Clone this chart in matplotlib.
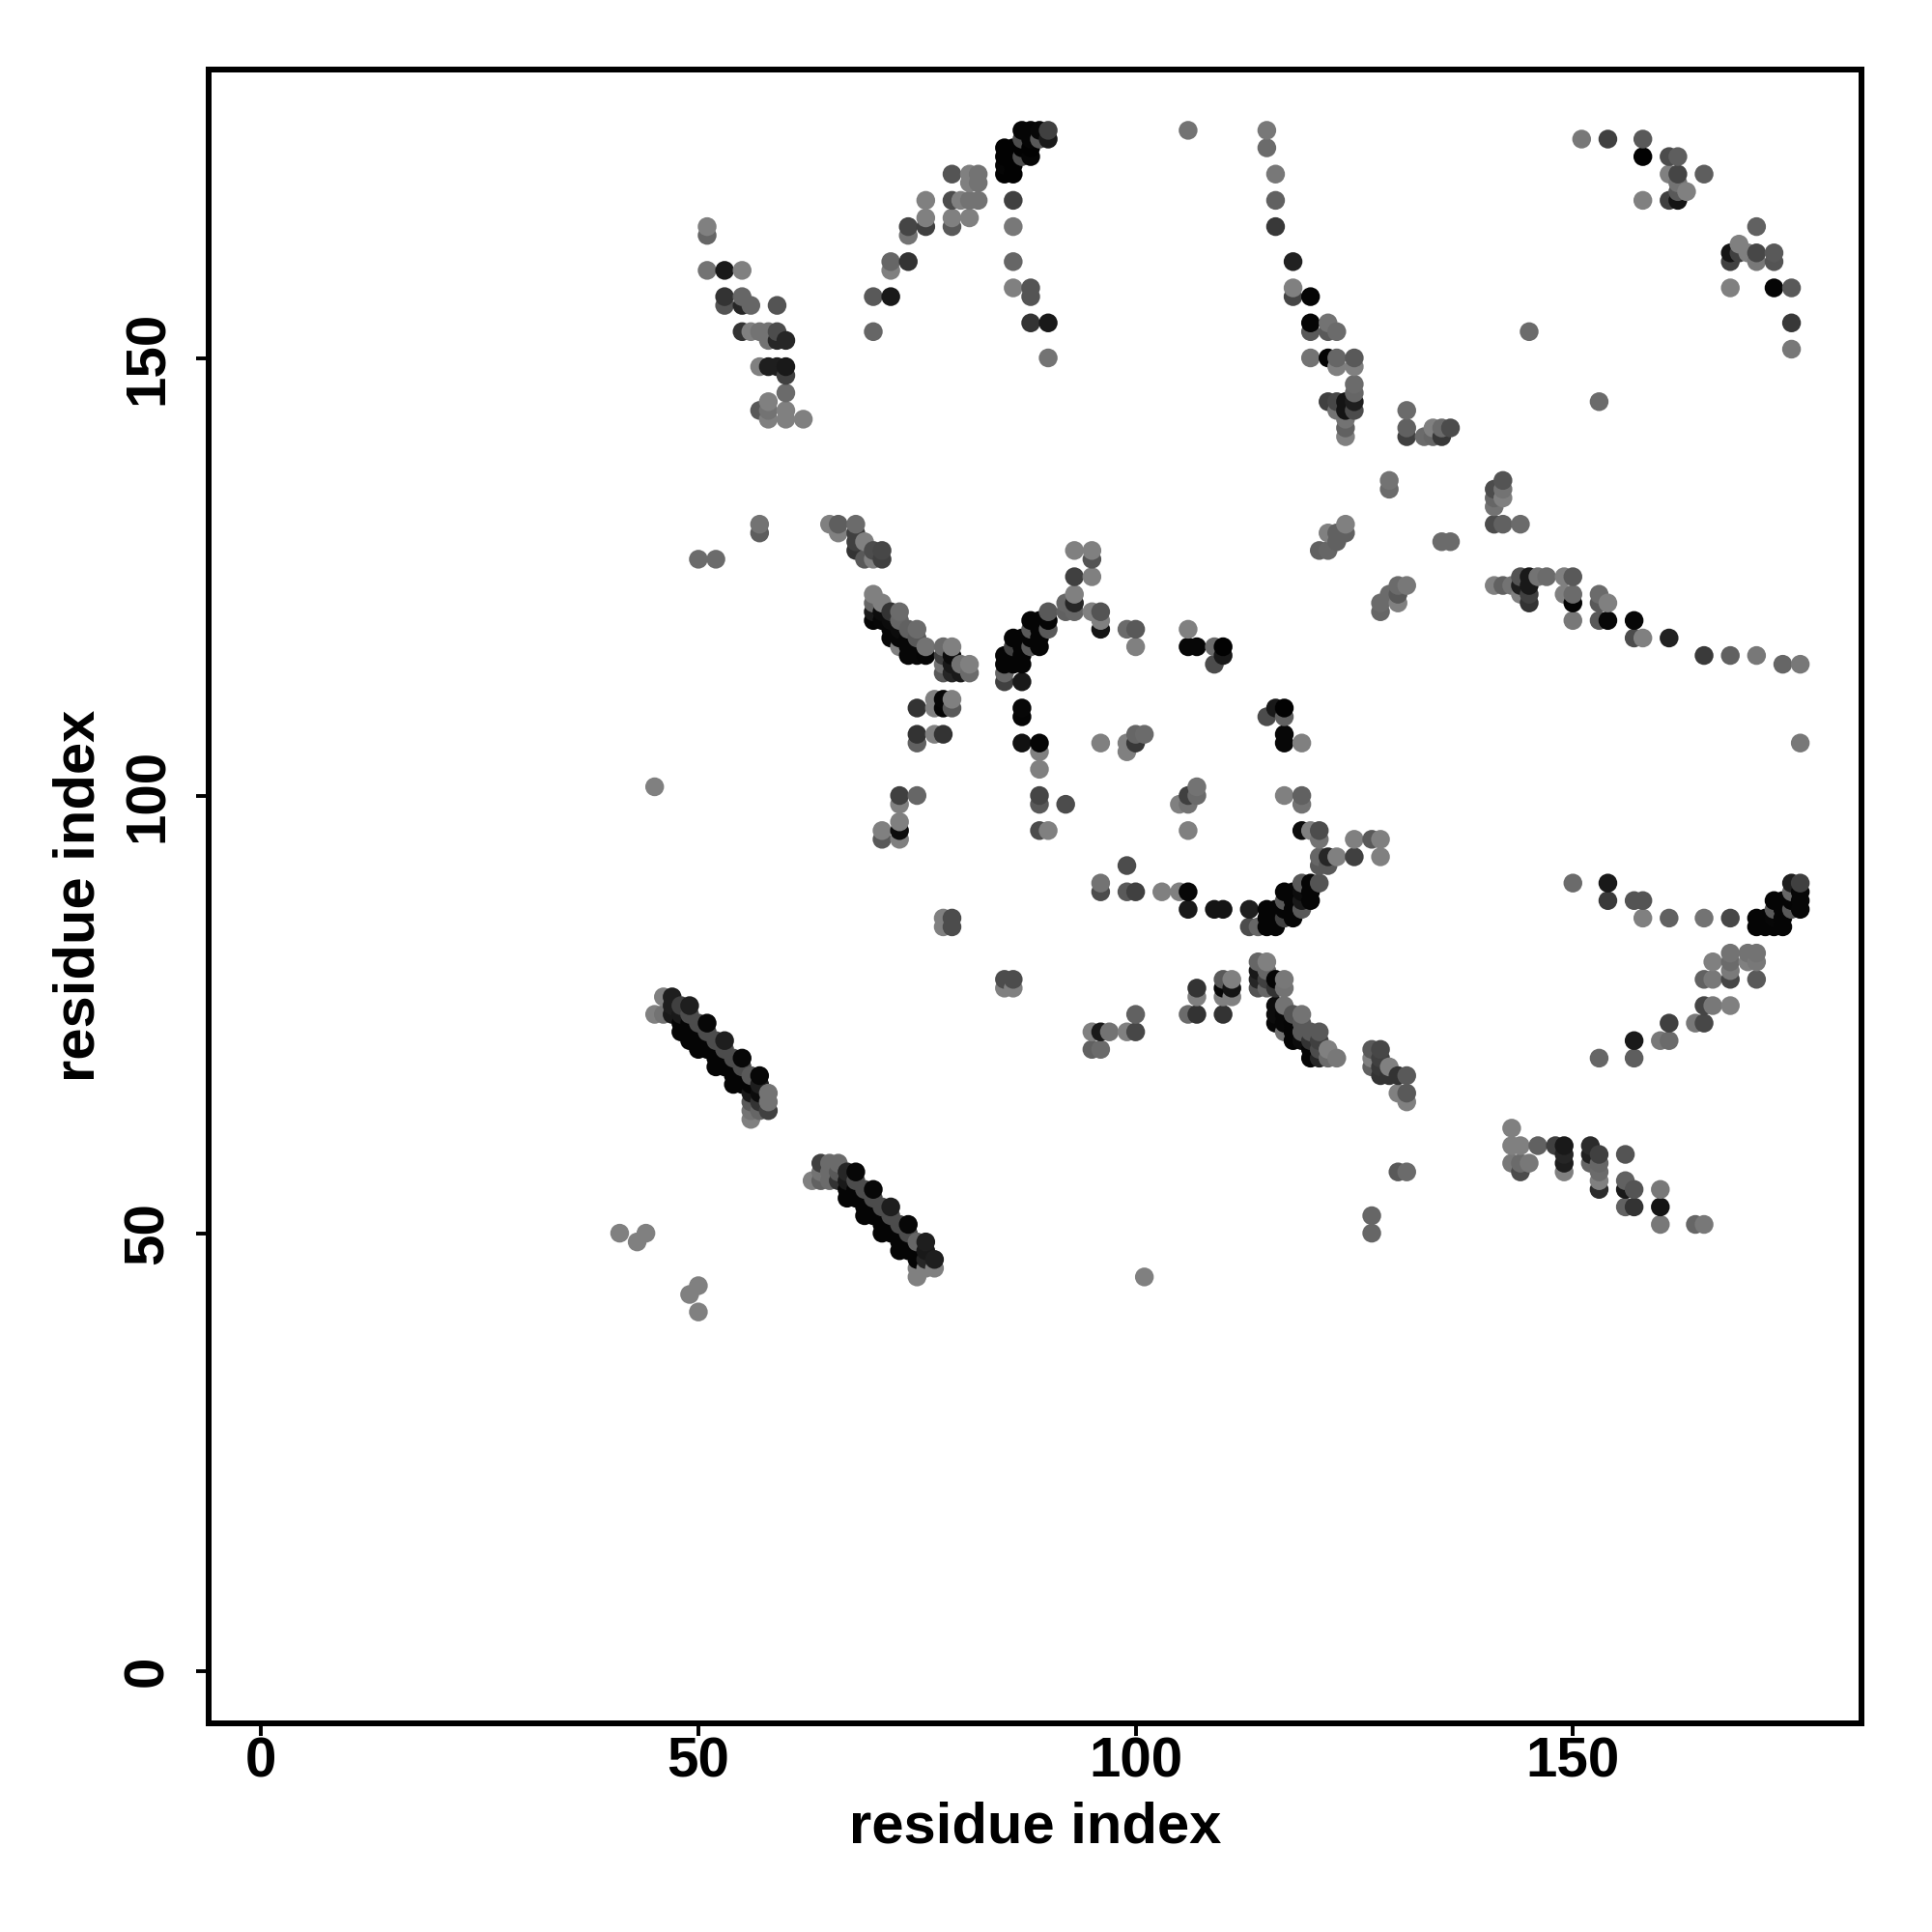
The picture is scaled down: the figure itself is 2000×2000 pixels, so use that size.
import numpy as np
import matplotlib
matplotlib.use('Agg')
import matplotlib.pyplot as plt

# contacts: (residue x, residue y, grey level)
top_left = [
    (51,165,.5),(51,164,.4),(51,160,.45),(53,160,.1),(55,160,.5),(53,157,.2),(53,156,.33),(55,157,.4),(55,156,.15),
    (56,156,.4),(59,156,.33),(55,153,.2),(56,153,.5),(57,153,.45),(58,153,.45),(59,153,.3),(58,152,.45),(59,152,.15),
    (60,152,.15),(57,149,.5),(58,149,.12),(59,149,.12),(60,149,.1),(60,148,.25),(60,146,.42),(57,144,.35),(58,145,.5),
    (58,144,.45),(58,143,.5),(60,144,.5),(60,143,.5),(62,143,.5),
]
upper_arc = [
    (70,153,.4),(70,157,.35),(72,157,.1),(72,161,.4),(72,160,.5),(74,161,.2),(74,165,.27),(74,164,.45),(76,165,.25),
    (76,166,.5),(76,168,.5),(79,171,.33),(79,168,.3),(79,166,.5),(79,165,.35),(80,168,.5),(81,168,.45),(81,166,.5),
    (81,171,.5),(81,170,.5),(82,171,.45),(82,170,.45),(82,168,.45),
    (85,174,.01),(85,173,.01),(85,172,.02),(85,171,.01),(86,174,.01),(86,173,.01),(86,172,.01),(86,171,.01),
    (87,176,.02),(87,175,.3),(87,174,.01),(87,173,.3),(88,176,.02),(88,175,.02),(88,174,.01),(88,173,.02),
    (89,176,.03),(89,175,.35),(90,175,.1),(90,176,.25),
    (86,168,.25),(86,165,.47),(86,161,.4),(86,158,.5),(88,158,.33),(88,157,.33),(88,154,.2),(90,154,.1),(90,150,.45),
]
mid_left = [
    (57,131,.45),(57,130,.37),(50,127,.42),(52,127,.42),(45,101,.5),
    (65,131,.5),(66,131,.37),(66,130,.5),(68,131,.42),(68,130,.25),(68,129,.25),(68,128,.2),(69,129,.5),(69,127,.35),
    (70,128,.3),(70,127,.5),(71,128,.28),(71,127,.25),
    (70,123,.5),(70,122,.4),(70,121,.1),(70,120,.02),(71,122,.5),(71,121,.05),(71,120,.03),(72,121,.2),(72,120,.05),
    (72,119,.03),(72,118,.03),(73,121,.42),(73,120,.4),(73,119,.05),(73,118,.03),(73,117,.5),(74,119,.38),(74,118,.03),
    (74,117,.03),(74,116,.03),(75,119,.42),(75,118,.35),(75,117,.03),(75,116,.03),(76,117,.45),(76,116,.02),
    (78,117,.42),(79,117,.5),(78,116,.25),(79,116,.05),(78,115,.45),(79,115,.1),(78,114,.35),(79,114,.15),(80,115,.45),
    (80,114,.1),(81,115,.5),(81,114,.42),
    (75,110,.2),(77,111,.5),(77,110,.5),(78,111,.03),(78,110,.02),(79,111,.5),(79,110,.35),(75,107,.2),(75,106,.38),
    (77,107,.5),(78,107,.2),(85,114,.4),(85,113,.25),(87,113,.1),(87,110,.03),(87,109,.02),(87,106,.07),(89,106,.02),
    (89,105,.5),(89,103,.5),(89,100,.27),(89,99,.35),(92,99,.3),(89,96,.3),(90,96,.5),
    (73,100,.25),(75,100,.4),(73,99,.5),(73,97,.5),(73,96,.05),(73,95,.5),(71,96,.5),(71,95,.35),
    (78,86,.5),(78,85,.5),(79,86,.3),(79,85,.3),(85,79,.3),(86,79,.3),(85,78,.5),(86,78,.5),
]
mid_cluster = [
    (85,116,.02),(85,115,.02),(86,118,.02),(86,117,.25),(86,116,.02),(86,115,.02),(87,118,.02),(87,117,.02),(87,116,.02),
    (87,115,.02),(88,120,.02),(88,119,.35),(88,118,.02),(88,117,.35),(89,120,.02),(89,119,.02),(89,118,.02),(89,117,.02),
    (90,121,.35),(90,120,.02),(90,119,.35),(92,122,.4),(92,121,.38),(93,122,.15),(93,121,.4),(93,123,.5),(93,125,.25),
    (93,128,.5),(95,128,.5),(95,127,.33),(95,125,.5),(95,121,.5),(96,121,.33),(96,120,.5),(96,119,.08),
    (99,119,.42),(100,119,.35),(100,117,.5),(106,119,.5),(106,117,.03),(107,117,.03),(109,117,.42),(110,117,.01),
    (110,116,.1),(109,115,.3),(115,109,.3),(116,110,.1),(117,110,.01),(117,109,.38),(117,107,.03),(117,106,.03),
    (119,106,.5),(96,106,.5),(99,106,.5),(99,105,.5),(100,107,.4),(100,106,.22),(101,107,.42),
    (106,96,.5),(105,99,.5),(106,99,.45),(106,100,.25),(107,100,.42),(107,101,.45),(117,100,.5),(119,100,.38),(119,99,.45),
]
upper_mid = [
    (106,176,.45),(115,176,.47),(115,174,.42),(116,171,.47),(116,168,.38),(116,165,.22),(118,161,.13),(118,158,.5),
    (118,157,.27),(120,157,.02),(120,154,.02),(120,153,.35),(122,154,.45),(122,153,.35),(123,153,.42),(120,150,.45),
    (122,150,.02),(123,150,.4),(123,149,.5),(125,150,.35),(125,149,.5),(125,147,.42),(125,146,.4),(125,145,.12),
    (125,144,.3),(122,145,.25),(123,145,.28),(123,144,.45),(124,145,.08),(124,144,.08),(124,143,.45),(124,142,.38),
    (124,141,.5),(145,153,.42),(153,145,.42),
    (131,144,.42),(131,142,.38),(131,141,.25),(133,141,.42),(134,142,.5),(134,141,.4),(135,142,.42),(135,141,.22),
    (136,142,.3),(129,136,.45),(129,135,.42),(141,135,.3),(141,134,.4),(141,133,.45),(142,136,.33),(142,135,.45),
    (142,134,.5),(141,131,.3),(142,131,.38),(144,131,.42),(135,129,.42),(136,129,.42),
    (122,130,.5),(123,130,.38),(124,130,.38),(124,131,.5),(123,129,.38),(121,128,.38),(122,128,.4),
    (128,121,.4),(128,122,.42),(129,123,.42),(130,124,.42),(131,124,.47),(130,123,.35),(130,122,.5),
]
right_band = [
    (141,124,.5),(142,124,.38),(143,124,.45),(144,125,.33),(144,124,.12),(144,123,.5),(145,125,.1),(145,124,.1),
    (145,123,.25),(145,122,.2),(146,125,.45),(147,125,.42),(149,125,.5),(150,125,.35),(149,123,.5),(150,123,.42),
    (150,122,.02),(150,120,.47),(153,123,.42),(153,122,.35),(154,122,.5),(153,120,.35),(154,120,.03),(157,120,.03),
    (157,118,.3),(158,118,.5),(161,118,.13),(165,116,.23),(168,116,.38),(171,116,.47),(174,115,.4),(176,115,.47),
    (176,106,.47),
]
top_right = [
    (151,175,.47),(154,175,.25),(158,175,.35),(158,173,.01),(161,173,.3),(162,173,.37),(161,171,.5),(162,171,.27),
    (162,170,.45),(163,169,.5),(162,169,.35),(165,171,.37),(158,168,.5),(161,168,.25),(162,168,.08),(171,165,.38),
    (169,163,.5),(168,162,.08),(168,161,.25),(169,162,.25),(170,162,.5),(171,162,.28),(171,161,.47),(173,162,.35),
    (173,161,.33),(168,158,.5),(173,158,.02),(175,158,.35),(175,154,.22),(175,151,.47),
]
arc_low = [
    (119,96,.05),(120,96,.5),(121,96,.3),(121,95,.45),(125,95,.5),(127,95,.35),(128,95,.5),(125,93,.25),(128,93,.5),
    (121,93,.4),(122,93,.15),(123,93,.5),(121,92,.35),(122,92,.35),(99,92,.3),(96,90,.45),(96,89,.3),(99,89,.35),
    (100,89,.25),(103,89,.5),(105,89,.5),(106,89,.03),(106,87,.1),(109,87,.08),(110,87,.08),(113,87,.12),(113,85,.3),
    (114,85,.4),(115,87,.02),(115,86,.02),(115,85,.02),(116,87,.02),(116,86,.02),(116,85,.02),(117,89,.02),(117,88,.35),
    (117,87,.02),(117,86,.25),(118,89,.02),(118,88,.02),(118,87,.02),(118,86,.02),(119,90,.35),(119,89,.05),(119,88,.1),
    (119,87,.35),(120,90,.02),(120,89,.02),(120,88,.02),(121,90,.33),
]
right_arc = [
    (150,90,.42),(154,90,.1),(154,88,.23),(157,88,.33),(158,88,.33),(158,86,.5),(161,86,.38),(165,86,.45),(168,86,.28),
    (171,86,.02),(171,85,.02),(172,86,.02),(172,85,.02),(173,88,.02),(173,87,.35),(173,86,.03),(173,85,.02),(174,88,.02),
    (174,87,.02),(174,86,.02),(174,85,.02),(175,90,.12),(175,89,.4),(175,88,.02),(175,87,.35),(176,90,.25),(176,89,.03),
    (176,88,.03),(176,87,.03),
    (168,82,.45),(168,81,.42),(168,80,.48),(168,79,.27),(170,82,.45),(170,81,.5),(171,82,.45),(171,81,.47),(171,79,.35),
    (166,81,.5),(165,79,.38),(166,79,.47),(165,76,.27),(166,76,.47),(168,76,.5),(164,74,.47),(165,74,.28),(161,74,.25),
    (160,72,.47),(161,72,.42),(157,72,.1),(157,70,.37),(153,70,.4),
]
lower_mid = [
    (100,75,.38),(95,73,.5),(96,73,.1),(97,73,.45),(95,71,.38),(96,71,.42),(99,73,.5),(100,73,.28),(106,75,.42),
    (107,75,.2),(107,78,.2),(107,77,.5),(110,79,.35),(111,79,.5),(110,78,.03),(111,78,.08),(110,77,.5),(111,77,.5),
    (110,75,.2),
    (114,81,.4),(115,81,.5),(114,80,.1),(115,80,.4),(114,79,.15),(115,79,.25),(114,78,.33),(115,78,.4),(116,79,.02),
    (116,78,.2),(117,79,.47),(117,78,.45),(116,76,.05),(117,76,.45),(116,75,.05),(117,75,.03),(116,74,.03),(117,74,.03),
    (117,73,.45),(118,75,.33),(119,75,.45),(118,74,.02),(118,73,.02),(118,72,.02),(119,74,.35),(119,73,.35),(119,72,.05),
    (120,73,.35),(121,73,.35),(120,72,.2),(121,72,.25),(120,71,.02),(120,70,.02),(121,71,.3),(121,70,.15),(122,71,.5),
    (122,70,.42),(123,70,.47),
    (127,71,.35),(128,71,.28),(127,70,.5),(127,69,.38),(128,70,.25),(128,69,.22),(128,68,.2),(129,69,.5),(129,68,.2),
    (130,68,.2),(131,68,.35),(130,66,.5),(131,66,.35),(131,65,.5),(130,57,.35),(131,57,.42),(127,52,.4),(127,50,.4),
    (101,45,.5),
]
lower_right = [
    (143,62,.5),(143,60,.5),(144,60,.5),(146,60,.38),(143,58,.47),(144,58,.42),(145,58,.47),(144,57,.3),
    (148,60,.25),(149,60,.1),(149,59,.15),(149,58,.12),(149,57,.5),(152,60,.17),(152,59,.13),(152,58,.4),(153,59,.25),
    (153,58,.4),(153,57,.42),(153,56,.5),(153,55,.17),(156,59,.33),(156,56,.38),(156,55,.1),(157,55,.33),(156,53,.38),
    (157,53,.2),(160,55,.47),(160,53,.08),(160,51,.47),(164,51,.4),(165,51,.47),
]
strand_a = [
    (45,75,.5),(46,77,.5),(46,75,.45),(47,75,.1),(47,76,.12),(47,77,.12),(48,73,.02),(48,74,.02),(48,75,.1),(48,76,.25),
    (49,72,.02),(49,73,.02),(49,74,.02),(49,75,.3),(49,76,.12),(50,71,.02),(50,72,.02),(50,73,.02),(50,74,.3),
    (51,71,.02),(51,72,.02),(51,73,.3),(51,74,.03),(52,69,.02),(52,70,.02),(52,71,.02),(52,72,.3),
    (53,69,.02),(53,70,.02),(53,71,.3),(53,72,.12),(54,67,.02),(54,68,.02),(54,69,.02),(54,70,.3),
    (55,67,.02),(55,68,.02),(55,69,.3),(55,70,.03),(56,63,.5),(56,64,.45),(56,65,.35),(56,66,.1),(56,67,.02),(56,68,.35),
    (57,64,.4),(57,65,.2),(57,66,.05),(57,67,.12),(57,68,.03),(58,64,.25),(58,65,.45),(58,66,.45),
]
strand_b = [
    (63,56,.5),(64,56,.38),(64,57,.45),(64,58,.25),(65,56,.42),(65,57,.42),(65,58,.42),(66,56,.2),(66,57,.35),(66,58,.42),
    (67,54,.02),(67,55,.02),(67,56,.1),(67,57,.15),(68,54,.02),(68,55,.02),(68,56,.3),(68,57,.03),
    (69,52,.02),(69,53,.02),(69,54,.02),(69,55,.3),(70,52,.02),(70,53,.02),(70,54,.3),(70,55,.03),
    (71,50,.02),(71,51,.02),(71,52,.02),(71,53,.3),(72,50,.02),(72,51,.02),(72,52,.3),(72,53,.12),
    (73,48,.02),(73,49,.02),(73,50,.02),(73,51,.3),(74,48,.02),(74,49,.02),(74,50,.3),(74,51,.03),
    (75,45,.5),(75,46,.5),(75,47,.02),(75,48,.02),(75,49,.4),(76,46,.5),(76,47,.15),(76,48,.1),(76,49,.12),
    (77,46,.5),(77,47,.12),
]
strays = [(41,50,.5),(44,50,.5),(43,49,.5),(50,44,.5),(49,43,.5),(50,41,.5)]

groups = [top_left, upper_arc, mid_left, mid_cluster, upper_mid, right_band, top_right,
          arc_low, right_arc, lower_mid, lower_right, strand_a, strand_b, strays]
contacts = np.array([c for g in groups for c in g])
# drawn left to right, bottom to top, so the overlaps stack the same way
contacts = contacts[np.lexsort((contacts[:, 1], contacts[:, 0]))]

plt.rcParams['font.family'] = ['Liberation Sans', 'DejaVu Sans']
plt.rcParams['font.weight'] = 'bold'

fig = plt.figure(figsize=(10, 10), dpi=200)
ax = fig.add_axes([216/2000, 1 - 1784/2000, (1927-216)/2000, (1784-71.5)/2000])
ax.scatter(contacts[:, 0], contacts[:, 1], s=49, c=contacts[:, 2], cmap='gray', vmin=0, vmax=1,
           linewidths=0)
ax.set_xlim(-6, 183)
ax.set_ylim(-6, 183)
ax.set_xticks([0, 50, 100, 150])
ax.set_yticks([0, 50, 100, 150])
ax.tick_params(length=4.7, width=1.4, labelsize=21)
ax.tick_params(axis='x', pad=0)
ax.tick_params(axis='y', pad=8)
for lab in ax.get_yticklabels():
    lab.set_rotation(90)
    lab.set_va('center')
for sp in ax.spines.values():
    sp.set_linewidth(2.16)
ax.set_xlabel('residue index', fontsize=21.5, fontweight='bold', labelpad=4.8)
ax.set_ylabel('residue index', fontsize=21.5, fontweight='bold', labelpad=6.3)

fig.savefig('out.png', dpi=200)
